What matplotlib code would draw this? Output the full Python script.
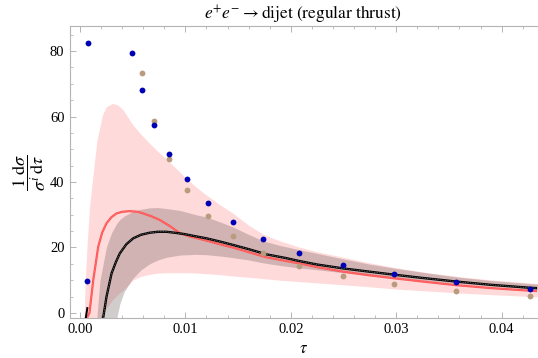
import matplotlib

matplotlib.use("Agg")
import matplotlib.pyplot as plt
from matplotlib.ticker import MultipleLocator

# --- data --------------------------------------------------------------
# blue and tan points
tau_blue = [0.00076, 0.00066, 0.0049, 0.0059, 0.0070, 0.00842, 0.01015, 0.0121,
            0.0145, 0.0174, 0.02075, 0.02495, 0.02983, 0.0357, 0.04273]
val_blue = [82.3, 9.9, 79.3, 68.0, 57.5, 48.5, 40.9, 33.7,
            27.7, 22.6, 18.4, 14.7, 11.9, 9.5, 7.3]
tau_tan = [0.0059, 0.0070, 0.00842, 0.01015, 0.0121, 0.0145, 0.0174,
           0.02075, 0.02495, 0.02983, 0.0357, 0.04273]
val_tan = [73.3, 58.7, 46.9, 37.5, 29.6, 23.5, 18.4,
           14.4, 11.4, 8.95, 6.8, 5.2]

# red curve
tau_red = [0.00065, 0.0009, 0.00126, 0.00173, 0.0021, 0.00252, 0.003, 0.00347,
           0.004, 0.00473, 0.0055, 0.006, 0.0068, 0.00757, 0.0085, 0.00946,
           0.0105, 0.0114, 0.012, 0.0135, 0.0145, 0.016, 0.0177, 0.0195,
           0.02075, 0.0225, 0.025, 0.0275, 0.0298, 0.0325, 0.0357, 0.039,
           0.0427, 0.0433]
val_red = [-1.5, 0.0, 10.0, 20.2, 24.5, 27.4, 29.3, 30.4,
           30.9, 31.1, 30.9, 30.4, 29.5, 28.4, 26.6, 24.4,
           23.3, 22.6, 22.1, 20.8, 20.0, 18.6, 17.0, 15.9,
           15.2, 14.0, 12.6, 11.5, 10.6, 9.6, 8.5, 7.6,
           6.8, 6.7]

# black curve
tau_blk = [0.0022, 0.00252, 0.003, 0.0034, 0.00378, 0.0044, 0.00505, 0.0058,
           0.0066, 0.0074, 0.0082, 0.009, 0.0099, 0.011, 0.012, 0.0133,
           0.0145, 0.016, 0.0177, 0.0195, 0.02075, 0.0225, 0.025, 0.0275,
           0.0298, 0.0325, 0.0357, 0.039, 0.0427, 0.0433]
val_blk = [-1.5, 5.0, 12.1, 15.5, 18.2, 21.0, 22.8, 23.9,
           24.5, 24.8, 24.8, 24.5, 24.1, 23.4, 22.8, 21.8,
           20.8, 19.5, 17.9, 16.8, 15.9, 14.8, 13.6, 12.6,
           11.7, 10.7, 9.6, 8.6, 7.7, 7.6]
tau_stub = [0.00055, 0.0007]
val_stub = [-1.5, 1.5]

# pink band
tau_pink = [0.0004, 0.0005, 0.0007, 0.0009, 0.0012, 0.0016, 0.0021, 0.0022,
            0.0025, 0.0031, 0.0036, 0.0041, 0.005, 0.0058, 0.0066, 0.0074,
            0.0082, 0.009, 0.0101, 0.011, 0.012, 0.0133, 0.0145, 0.016,
            0.0174, 0.019, 0.0207, 0.0225, 0.025, 0.0275, 0.03, 0.033,
            0.036, 0.039, 0.043, 0.0435]
pink_hi = [-1.5, 10.0, 22.0, 32.0, 41.0, 52.5, 60.0, 61.0,
           63.0, 64.0, 63.5, 62.0, 57.5, 54.5, 51.8, 49.3,
           47.0, 44.5, 41.0, 38.5, 36.0, 33.0, 30.5, 26.8,
           24.0, 22.0, 20.2, 18.7, 17.0, 15.3, 13.8, 12.3,
           11.1, 10.1, 9.1, 9.0]
pink_lo = [-1.5, -1.5, -1.5, -1.5, -1.5, -1.5, -1.5, -0.5,
           1.5, 4.0, 5.7, 7.0, 10.0, 11.2, 11.8, 12.2,
           12.3, 12.3, 12.3, 12.2, 12.0, 11.7, 11.3, 10.9,
           10.5, 10.0, 9.6, 9.2, 8.6, 8.0, 7.3, 6.7,
           6.1, 5.6, 5.0, 5.0]

# gray band
tau_gray = [0.0016, 0.0019, 0.0025, 0.003, 0.0035, 0.0038, 0.0042, 0.005,
            0.0058, 0.0066, 0.0074, 0.0082, 0.0095, 0.011, 0.012, 0.0133,
            0.0145, 0.016, 0.0174, 0.019, 0.0207, 0.0225, 0.025, 0.0275,
            0.03, 0.033, 0.036, 0.039, 0.043, 0.0435]
gray_hi = [-1.5, 10.0, 20.0, 24.5, 27.4, 28.6, 29.6, 31.0,
           31.7, 32.1, 32.2, 31.9, 31.3, 30.0, 29.3, 27.8,
           26.3, 24.0, 22.0, 20.6, 19.4, 18.2, 16.5, 14.9,
           13.6, 12.2, 10.9, 9.9, 8.9, 8.8]
gray_lo = [-1.5, -1.5, -1.5, -1.5, -1.5, 3.0, 6.5, 10.5,
           13.2, 15.0, 16.2, 17.0, 17.7, 17.9, 17.8, 17.4,
           16.9, 16.2, 15.3, 14.5, 13.8, 13.2, 12.3, 11.5,
           10.7, 9.8, 9.0, 8.2, 7.2, 7.1]

# --- plot ---------------------------------------------------------------
plt.rcParams.update({
    "font.family": "Liberation Serif",
    "mathtext.fontset": "stix",
    "font.size": 10.5,
})

fig = plt.figure(figsize=(5.38, 3.58), dpi=100)
ax = fig.add_axes([0.130, 0.112, 0.868, 0.815])

ax.fill_between(tau_pink, pink_lo, pink_hi, color="#ffdada", lw=0, zorder=1)
ax.fill_between(tau_gray, gray_lo, gray_hi, color="#6a5a5a", alpha=0.3, lw=0, zorder=2)

ax.plot(tau_red, val_red, color="#ff5555", lw=1.6, zorder=3)
ax.plot(tau_red, val_red, color="#ff9090", lw=0.4, ls=(0, (1.5, 1.5)), zorder=4)
ax.plot(tau_blk, val_blk, color="black", lw=1.7, zorder=5)
ax.plot(tau_blk, val_blk, color="#b0b0b0", lw=0.4, ls=(0, (1.5, 1.5)), zorder=6)
ax.plot(tau_stub, val_stub, color="black", lw=1.4, zorder=5)

ax.plot(tau_tan, val_tan, "o", color="#b99b7d", ms=4.2, mew=0, zorder=7)
ax.plot(tau_blue, val_blue, "o", color="#0000b4", ms=4.2, mew=0, zorder=8)

ax.set_xlim(-0.00095, 0.04335)
ax.set_ylim(-1.5, 87.6)

ax.xaxis.set_major_locator(MultipleLocator(0.01))
ax.xaxis.set_minor_locator(MultipleLocator(0.002))
ax.yaxis.set_major_locator(MultipleLocator(20))
ax.yaxis.set_minor_locator(MultipleLocator(5))
ax.xaxis.set_major_formatter(plt.FuncFormatter(lambda v, p: f"{v:.2f}"))

for side in ("left", "bottom", "top"):
    ax.spines[side].set_color("#b4b4b4")
    ax.spines[side].set_linewidth(0.8)
ax.spines["right"].set_visible(False)
ax.tick_params(which="both", direction="in", color="#b4b4b4", top=True,
               right=False, labelsize=10.5, pad=4)
ax.tick_params(which="major", length=4, width=0.7)
ax.tick_params(which="minor", length=2.2, width=0.6)

ax.set_title(r"$e^{+}e^{-}\rightarrow\mathrm{dijet\ (regular\ thrust)}$",
             fontsize=12.5, pad=4)
ax.set_xlabel(r"$\tau$", fontsize=12, labelpad=3)
ax.set_ylabel(r"$\dfrac{1}{\sigma^{i}}\dfrac{\mathrm{d}\sigma}{\mathrm{d}\tau}$",
              fontsize=13, labelpad=1)

fig.savefig("out.png", dpi=100)
